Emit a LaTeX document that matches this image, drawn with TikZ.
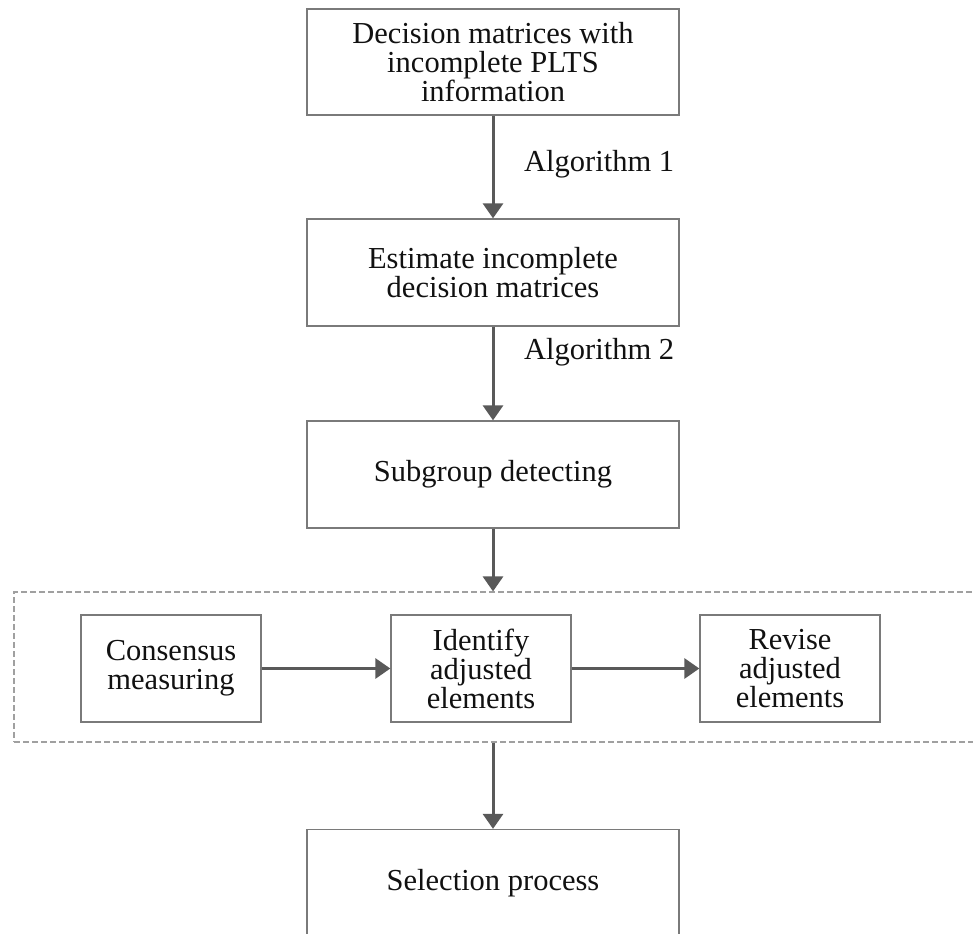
\documentclass[tikz,border=0pt]{standalone}
\usepackage{fontspec}
\setmainfont{Liberation Serif}
\usetikzlibrary{arrows.meta}
\definecolor{arrowgray}{HTML}{595959}
\definecolor{boxgray}{HTML}{7A7A7A}
\definecolor{dashgray}{HTML}{A0A0A0}
\definecolor{txt}{HTML}{111111}
\tikzset{
  stepbox/.style={draw=boxgray, line width=1.3pt, fill=white, text=txt, align=center,
    minimum width=372pt, minimum height=107pt, inner sep=0pt,
    font=\fontsize{30.5}{29}\selectfont},
  smallbox/.style={stepbox, minimum width=180pt},
  groupbox/.style={draw=dashgray, line width=1.2pt, dash pattern=on 6pt off 3pt,
    minimum width=980pt, minimum height=150pt, inner sep=0pt},
  flow/.style={draw=arrowgray, line width=3pt, -{Triangle[length=15pt,width=20pt]}},
  lbl/.style={anchor=west, text=txt, font=\fontsize{30.5}{29}\selectfont, inner sep=0pt}
}
\begin{document}
\begin{tikzpicture}[x=1pt,y=-1pt]
\useasboundingbox (0,0) rectangle (973,933);
\clip (0,0) rectangle (973,933);
\node[groupbox] (grp) at (504,667) {};
\node[stepbox, minimum height=106pt] (b1) at (493,62) {Decision matrices with\\incomplete PLTS\\information};
\node[stepbox] (b2) at (493,272.5) {Estimate incomplete\\decision matrices};
\node[stepbox] (b3) at (493,474.5) {Subgroup detecting};
\node[smallbox] (c1) at (171,668.5) {Consensus\\measuring};
\node[smallbox] (c2) at (481,668.5) {Identify\\adjusted\\elements};
\node[smallbox] (c3) at (790,668.5) {Revise\\adjusted\\elements};
\node[stepbox] (b5) at (493,883) {Selection process};
\draw[flow] (b1) -- (b2);
\draw[flow] (b2) -- (b3);
\draw[flow] (b3) -- (grp.north -| b3);
\draw[flow] (c1) -- (c2);
\draw[flow] (c2) -- (c3);
\draw[flow] (grp.south -| b5) -- (b5);
\node[lbl] (a1) at (524,164) {Algorithm 1};
\node[lbl] (a2) at (524,352) {Algorithm 2};
\end{tikzpicture}
\end{document}
